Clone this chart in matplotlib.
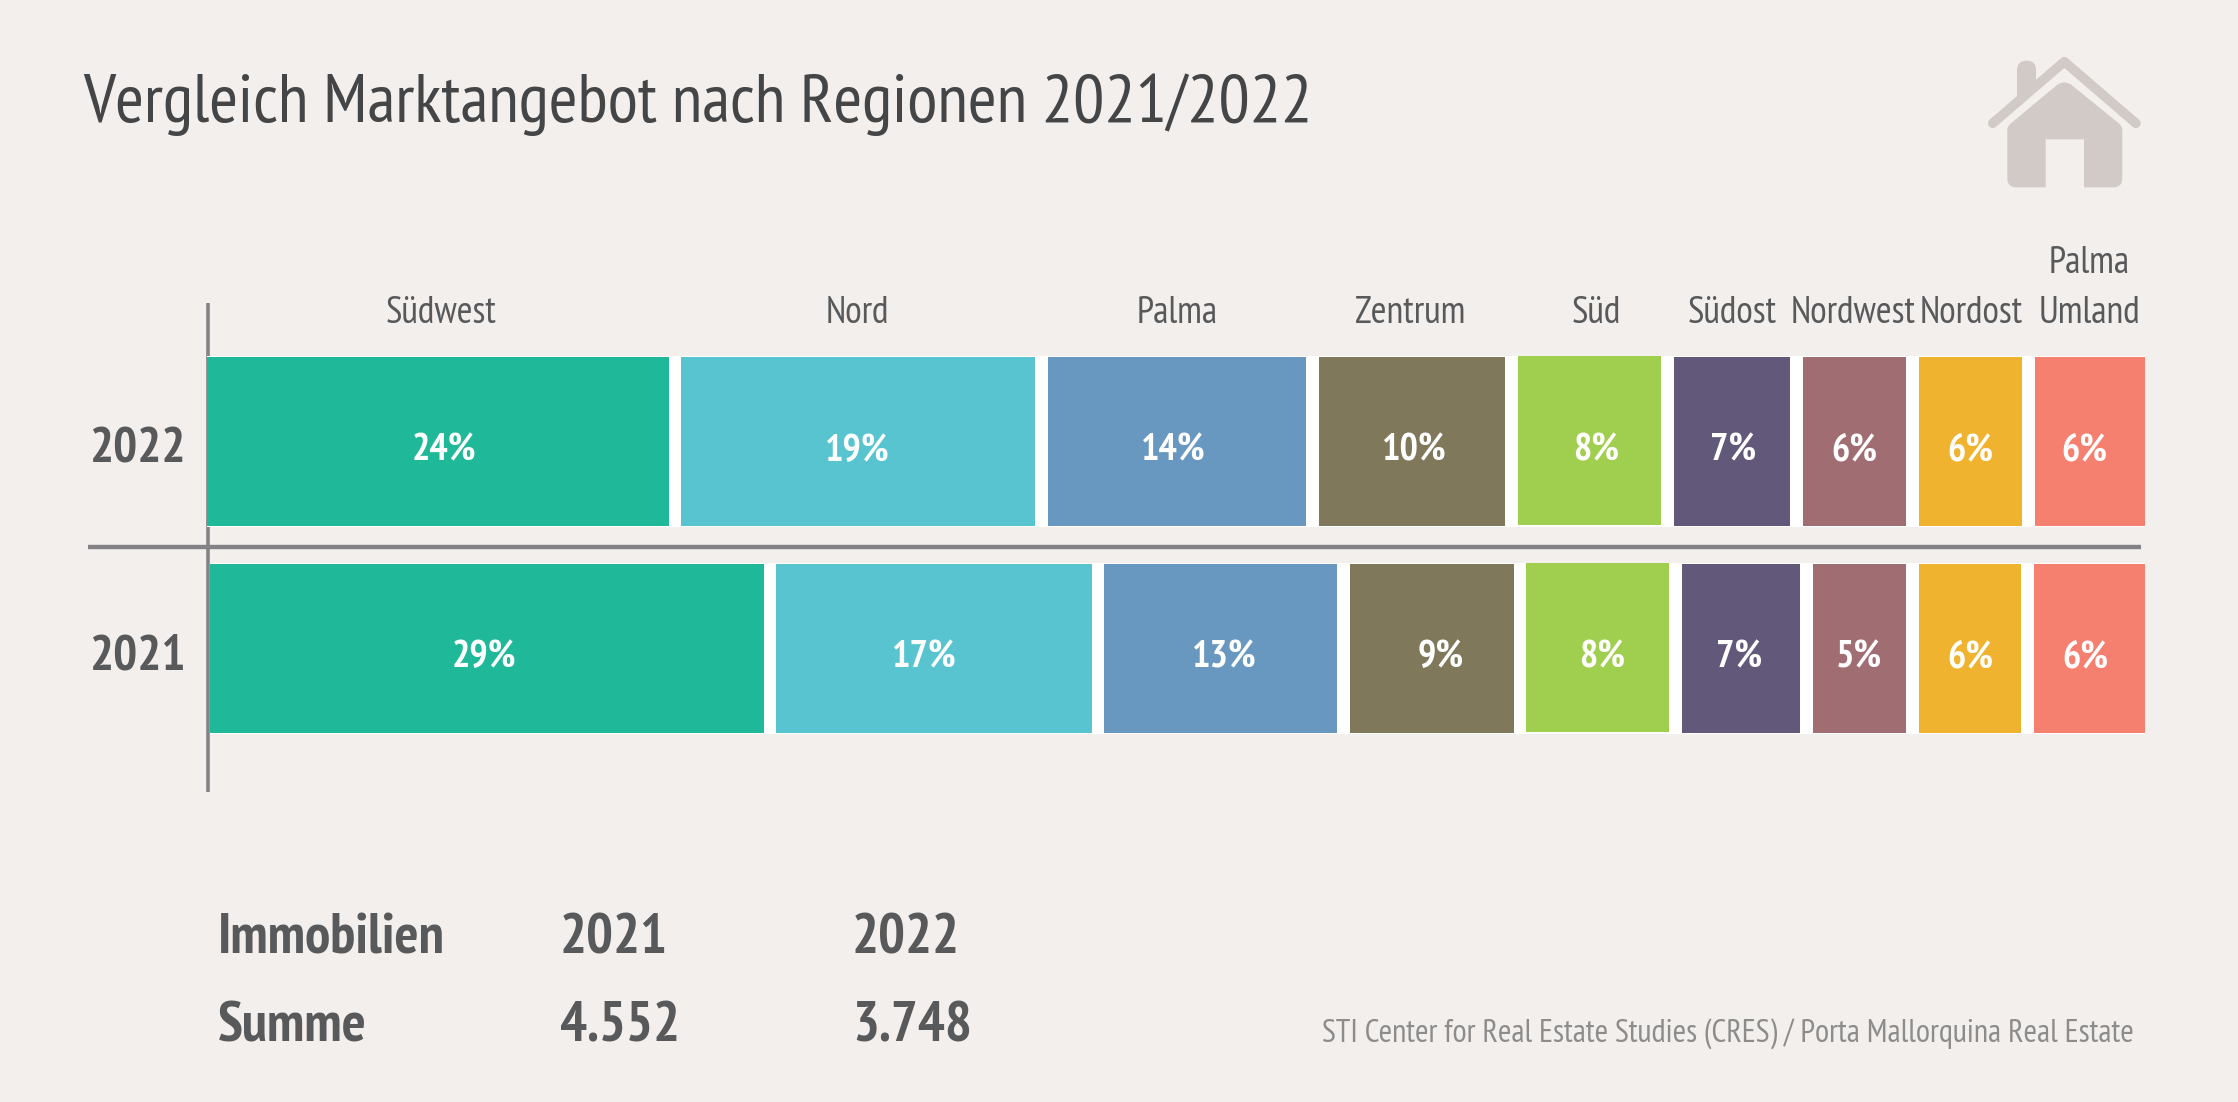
import matplotlib
matplotlib.use("Agg")
import matplotlib.pyplot as plt
from matplotlib.path import Path
from matplotlib.patches import PathPatch

W, H = 2238, 1102
BG = "#F3EFEC"
TXT = "#58595B"
LINE = "#828287"

# ---- data ----
years = ["2022", "2021"]
regions = ["Südwest", "Nord", "Palma", "Zentrum", "Süd", "Südost", "Nordwest", "Nordost", "Palma\nUmland"]
labels_2022 = [24, 19, 14, 10, 8, 7, 6, 6, 6]
labels_2021 = [29, 17, 13, 9, 8, 7, 5, 6, 6]
# segment lengths as drawn in the picture (percent scale)
shares_2022 = [24.84, 19.01, 13.91, 10.00, 7.70, 6.29, 5.54, 5.54, 5.91]
shares_2021 = [29.78, 16.95, 12.51, 8.82, 7.69, 6.36, 5.00, 5.51, 5.99]
colors = ["#1FB898", "#57C4D0", "#6898C0", "#80785A", "#A0CE4E", "#62587A", "#A06E72", "#EFB32F", "#F6806F"]
table_head = ["Immobilien", "2021", "2022"]
table_row = ["Summe", "4.552", "3.748"]
title = "Vergleich Marktangebot nach Regionen 2021/2022"
source = "STI Center for Real Estate Studies (CRES) / Porta Mallorquina Real Estate"

# ---- layout ----
PX_PER_PCT = 18.6
GAP = 12.67 / PX_PER_PCT
ROW_PX = 206.85
BAR_H = 168.7 / ROW_PX
Y_2022_PX = 441.65
X0_PX = 206.6
START = {"2022": 0.0, "2021": 3.2 / PX_PER_PCT}
NUDGE_2022 = [6, -1, -4, 2, 7, 1, 0, 0, -5]
NUDGE_2021 = [-3, -10, 4, 9, 4, -2, -1, 0, -4]
HEAD_NUDGE = [4, -1, 0, -1, 7, 0, -2, 1, 0]

plt.rcParams["font.family"] = ["PT Sans Narrow", "Liberation Sans", "DejaVu Sans"]

def px(size):
    return size * 0.72

fig = plt.figure(figsize=(W / 100, H / 100), dpi=100, facecolor=BG)
ax = fig.add_axes([0, 0, 1, 1])
ax.set_xlim(-X0_PX / PX_PER_PCT, (W - X0_PX) / PX_PER_PCT)
ax.set_ylim(-(H - (Y_2022_PX + ROW_PX)) / ROW_PX, 1 + Y_2022_PX / ROW_PX)
ax.axis("off")

over = fig.add_axes([0, 0, 1, 1], facecolor="none")
over.set_xlim(0, W)
over.set_ylim(H, 0)
over.axis("off")
over.set_zorder(-1)
ax.set_zorder(1)
ax.patch.set_alpha(0)

# axis line and separator (beneath the bars)
over.plot([208.2, 208.2], [303, 792], color=LINE, lw=px(3.6), solid_capstyle="butt")
over.plot([88, 2141], [546.7, 546.7], color=LINE, lw=px(4.4), solid_capstyle="butt")

def draw_row(row_y, year, shares, labels, nudges):
    left = START[year]
    total = sum(shares) + GAP * (len(shares) - 1)
    ax.barh(row_y, total, left=left, height=BAR_H + 2 / ROW_PX, color="white", lw=0, zorder=2)
    centres = []
    for i, (w, c, lab, dx) in enumerate(zip(shares, colors, labels, nudges)):
        shift = 1 / ROW_PX if i == 4 else 0
        ax.barh(row_y + shift, w, left=left, height=BAR_H, color=c, lw=0, zorder=3)
        centres.append(left + w / 2)
        ax.annotate(f"{lab}%", (left + w / 2, row_y), xytext=(dx, -19), textcoords="offset pixels",
                    ha="center", va="baseline", color="white", fontweight="bold",
                    fontsize=px(38.5), zorder=4)
        left += w + GAP
    return centres

cent22 = draw_row(1, "2022", shares_2022, labels_2022, NUDGE_2022)
draw_row(0, "2021", shares_2021, labels_2021, NUDGE_2021)

# category heads above the 2022 row
for name, cx, dx in zip(regions, cent22, HEAD_NUDGE):
    for j, part in enumerate(reversed(name.split("\n"))):
        ax.annotate(part, (cx, 1), xytext=(dx, Y_2022_PX - 322.7 + j * 49.7), textcoords="offset pixels",
                    ha="center", va="baseline", color=TXT, fontsize=px(38))

# row names
for yr, yy in zip(years, (1, 0)):
    ax.annotate(yr, (0, yy), xytext=(-21, -21), textcoords="offset pixels", ha="right", va="baseline",
                color=TXT, fontsize=px(50.5), fontweight="bold")

# title and source
over.text(83, 121.7, title, fontsize=px(69.5), color="#444546", ha="left", va="baseline")
over.text(2134, 1042, source, fontsize=px(32.4), color="#8C8C8C", ha="right", va="baseline")

# little table
for txt, x in zip(table_head, (218, 560, 852)):
    over.text(x, 954, txt, fontsize=px(56.5), fontweight="bold", color=TXT, ha="left", va="baseline")
for txt, x in zip(table_row, (218, 560, 852)):
    over.text(x, 1041.7, txt, fontsize=px(56.5), fontweight="bold", color=TXT, ha="left", va="baseline")

# house icon (decoration, pixel coordinates from zoomed crop)
def zx(v): return 1900 + v / 3
def zy(v): return 30 + v / 3
def zpath(verts):
    return [(zx(a), zy(b)) for a, b in verts]
ICON = "#D1CAC7"
M, L, Q = Path.MOVETO, Path.LINETO, Path.CURVE3
chim = [(351, 215), (351, 120), (351, 92), (380, 92), (408, 92), (408, 120), (408, 165), (351, 215)]
over.add_patch(PathPatch(Path(zpath(chim), [M, L, Q, Q, Q, Q, L, L]), facecolor=ICON, edgecolor="none", zorder=2))
over.plot([zx(278), zx(493), zx(708)], [zy(280), zy(95), zy(280)], color=ICON, lw=px(9.5),
          solid_capstyle="round", solid_joinstyle="round", zorder=3)
verts = [(322, 300), (322, 288), (335, 278), (470, 166), (493, 148), (516, 166), (654, 278), (667, 288),
         (667, 300), (667, 445), (667, 472), (640, 472), (552, 472), (552, 328), (437, 328), (437, 472),
         (349, 472), (322, 472), (322, 445), (322, 300)]
codes = [M, Q, Q, L, Q, Q, L, Q, Q, L, Q, Q, L, L, L, L, L, Q, Q, L]
over.add_patch(PathPatch(Path(zpath(verts), codes), facecolor=ICON, edgecolor="none", zorder=4))

fig.savefig("out.png", dpi=100, facecolor=BG)
